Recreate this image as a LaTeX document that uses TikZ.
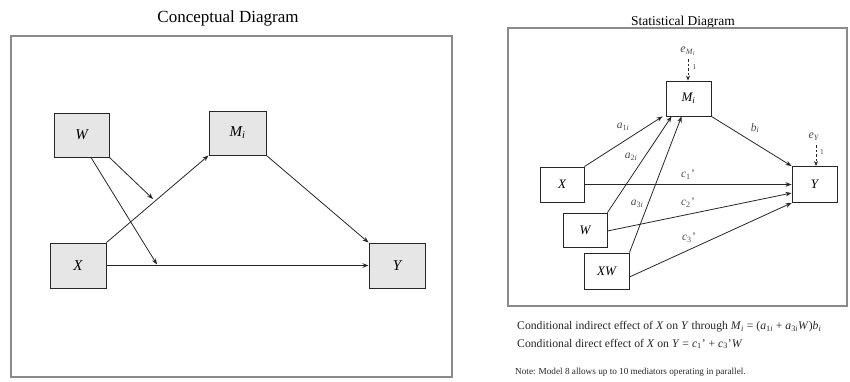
\documentclass[tikz,border=0pt]{standalone}
\usepackage{fontspec}
\setmainfont{Liberation Serif}
\usetikzlibrary{arrows.meta,calc}
\definecolor{framegray}{HTML}{8A8A8A}
\definecolor{boxfill}{HTML}{E6E6E6}
\definecolor{linedark}{HTML}{262626}
\definecolor{lblgray}{HTML}{4A4A4A}
\newcommand{\ital}[1]{\textit{#1}}
\newcommand{\sbs}[1]{\textsubscript{#1}}
\tikzset{
  frame/.style={draw=framegray,line width=1.2pt},
  cbox/.style={draw=linedark,fill=boxfill,line width=1pt,inner sep=0pt,font=\fontsize{15}{15}\selectfont\itshape},
  sbox/.style={draw=linedark,fill=white,line width=0.9pt,inner sep=0pt,font=\fontsize{13}{13}\selectfont\itshape},
  arr/.style={draw=linedark,line width=0.8pt,-{Stealth[length=6pt,width=4.5pt]}},
  darr/.style={draw=linedark,line width=0.8pt,dashed,dash pattern=on 2.5pt off 2pt,-{Stealth[length=5pt,width=4pt]}},
  lbl/.style={text=lblgray,inner sep=0pt,font=\fontsize{11.5}{11.5}\selectfont},
  ttl/.style={inner sep=0pt},
}
\begin{document}
\begin{tikzpicture}[x=1pt,y=-1pt]
\useasboundingbox (0,0) rectangle (850,381);
% ---------- Conceptual ----------
\node[ttl,font=\fontsize{17}{17}\selectfont] (t1) at (228,18) {Conceptual Diagram};
\draw[frame] (11,36) rectangle (452,377);
\node[cbox,minimum width=55pt,minimum height=44pt] (W) at (81.5,135) {W};
\node[cbox,minimum width=57pt,minimum height=44pt] (M) at (237.5,133) {M\sbs{i}};
\node[cbox,minimum width=56pt,minimum height=45pt] (X) at (78,265.5) {X};
\node[cbox,minimum width=56pt,minimum height=45pt] (Y) at (397,265.5) {Y};
\coordinate (p1) at (153,199);
\coordinate (p2) at (157,264.5);
\draw[arr] (X.north east) -- (M.south west);
\draw[arr] (M.south east) -- (Y.north west);
\draw[arr] (X.east) -- (Y.west);
\draw[arr] (W.south east) -- (p1);
\draw[arr] ([xshift=9.5pt]W.south) -- (p2);
% ---------- Statistical ----------
\node[ttl,font=\fontsize{13.5}{13.5}\selectfont] (t2) at (683,22) {Statistical Diagram};
\draw[frame] (508,28) rectangle (847,306);
\node[sbox,minimum width=45pt,minimum height=35pt] (SM) at (688.5,98.5) {M\sbs{i}};
\node[sbox,minimum width=44pt,minimum height=35pt] (SX) at (562,184.5) {X};
\node[sbox,minimum width=44pt,minimum height=34pt] (SW) at (585,230) {W};
\node[sbox,minimum width=45pt,minimum height=36pt] (SXW) at (606.5,271) {XW};
\node[sbox,minimum width=45pt,minimum height=36pt] (SY) at (814.5,184.5) {Y};
\node[lbl,font=\fontsize{12}{12}\selectfont] (eM) at (688,51) {\ital{e}\sbs{\ital{M}\sbs{\ital{i}}}};
\node[lbl,font=\fontsize{7.5}{7.5}\selectfont] (oneM) at (694.5,67) {1};
\coordinate (eMs) at (688,59);
\draw[darr] (eMs) -- (SM.north -| eMs);
\node[lbl,font=\fontsize{12}{12}\selectfont] (eY) at (814,137) {\ital{e}\sbs{\ital{Y}}};
\node[lbl,font=\fontsize{7.5}{7.5}\selectfont] (oneY) at (822,152) {1};
\coordinate (eYs) at (816,145);
\draw[darr] (eYs) -- (SY.north -| eYs);
\draw[arr] (SX.north east) -- ([xshift=-3pt]SM.south west);
\draw[arr] (SW.north east) -- ([xshift=6pt]SM.south west);
\draw[arr] (SXW.north east) -- ([xshift=16pt]SM.south west);
\draw[arr] (SM.south east) -- (SY.north west);
\draw[arr] (SX.east) -- (SY.west);
\draw[arr] ([yshift=-1pt]SW.east) -- ([yshift=-8.5pt]SY.west);
\draw[arr] ([yshift=-6pt]SXW.east) -- (SY.south west);
\node[lbl] (la1) at (623,127) {\ital{a}\sbs{1\ital{i}}};
\node[lbl] (lb) at (755,128) {\ital{b}\sbs{\ital{i}}};
\node[lbl] (la2) at (631,157) {\ital{a}\sbs{2\ital{i}}};
\node[lbl] (lc1) at (688,175) {\ital{c}\sbs{1}\kern0.3pt'};
\node[lbl] (la3) at (637,204) {\ital{a}\sbs{3\ital{i}}};
\node[lbl] (lc2) at (688,203) {\ital{c}\sbs{2}\kern0.3pt'};
\node[lbl] (lc3) at (689,238) {\ital{c}\sbs{3}\kern0.3pt'};
% ---------- text below ----------
\node[anchor=west,inner sep=0pt,font=\fontsize{11.7}{11.7}\selectfont,text=black!85] (txt1) at (517,327)
  {Conditional indirect effect of \ital{X} on \ital{Y} through \ital{M}\sbs{\ital{i}} = (\ital{a}\sbs{1\ital{i}} + \ital{a}\sbs{3\ital{i}}\ital{W})\ital{b}\sbs{\ital{i}}};
\node[anchor=west,inner sep=0pt,font=\fontsize{11.7}{11.7}\selectfont,text=black!85] (txt2) at (517,344)
  {Conditional direct effect of \ital{X} on \ital{Y} = \ital{c}\sbs{1}' + \ital{c}\sbs{3}'\ital{W}};
\node[anchor=west,inner sep=0pt,font=\fontsize{9.2}{9.2}\selectfont,text=black!85] (note) at (515,372)
  {Note: Model 8 allows up to 10 mediators operating in parallel.};
\end{tikzpicture}
\end{document}
